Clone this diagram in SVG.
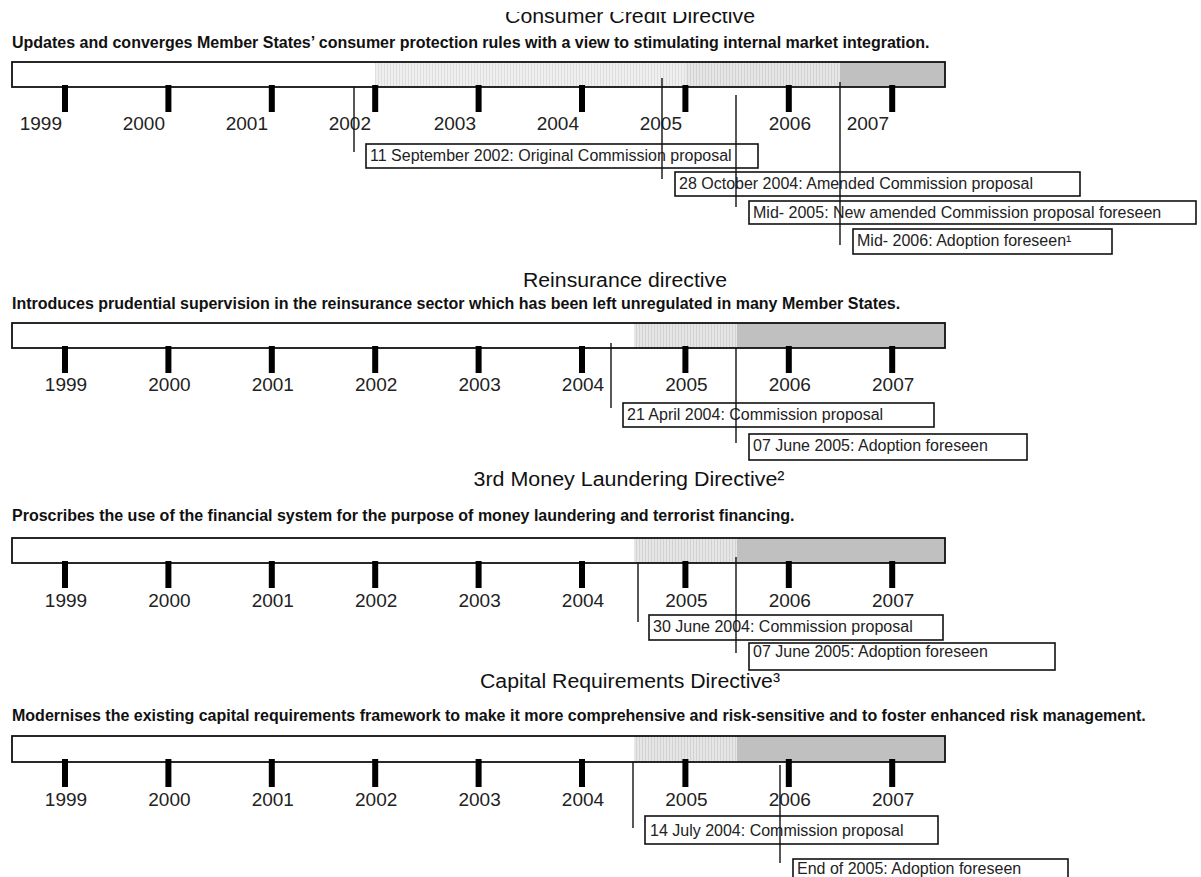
<svg xmlns="http://www.w3.org/2000/svg" width="1201" height="877" viewBox="0 0 1201 877">
<style>
text{font-family:"Liberation Sans",Arial,sans-serif;fill:#111}
.ttl{font-size:20px}
.sub{font-size:16px;font-weight:bold}
.yr{font-size:19px;fill:#222}
.bt{font-size:16px;fill:#222}
.bar{fill:none;stroke:#111;stroke-width:1.8}
.tick{fill:#000}
.box{fill:none;stroke:#111;stroke-width:1.6}
.ln{stroke:#111;stroke-width:1.4;fill:none}
.solid{fill:#c0c0c0}
.lt{fill:url(#pLight)}
.md{fill:url(#pMed)}
</style>
<defs>
<pattern id="pLight" width="3" height="3" patternUnits="userSpaceOnUse">
<rect width="3" height="3" fill="#efefef"/>
<rect width="1" height="3" fill="#dedede"/>
</pattern>
<pattern id="pMed" width="3" height="3" patternUnits="userSpaceOnUse">
<rect width="3" height="3" fill="#e6e6e6"/>
<rect width="1" height="3" fill="#d2d2d2"/>
</pattern>
<clipPath id="topclip"><rect x="0" y="12" width="1201" height="40"/></clipPath>
</defs>
<rect width="1201" height="877" fill="#fff"/>

<!-- Section 1 -->
<g id="sec1">
<text class="ttl" x="630" y="23" text-anchor="middle" textLength="250" lengthAdjust="spacingAndGlyphs" clip-path="url(#topclip)">Consumer Credit Directive</text>
<text class="sub" x="12" y="48">Updates and converges Member States’ consumer protection rules with a view to stimulating internal market integration.</text>
<g id="bar1">
<rect class="lt" x="375" y="62" width="311" height="25"/>
<rect class="md" x="686" y="62" width="154" height="25"/>
<rect class="solid" x="840" y="62" width="105" height="25"/>
<rect class="bar" x="12" y="62" width="933" height="25"/>
<g class="tick">
<rect x="62" y="85" width="6" height="27"/><rect x="165.4" y="85" width="6" height="27"/><rect x="268.8" y="85" width="6" height="27"/><rect x="372.2" y="85" width="6" height="27"/><rect x="475.6" y="85" width="6" height="27"/><rect x="579" y="85" width="6" height="27"/><rect x="682.4" y="85" width="6" height="27"/><rect x="785.8" y="85" width="6" height="27"/><rect x="889.2" y="85" width="6" height="27"/>
</g>
<g class="yr" text-anchor="end">
<text class="yr" x="62" y="130">1999</text><text class="yr" x="165" y="130">2000</text><text class="yr" x="268" y="130">2001</text><text class="yr" x="371" y="130">2002</text><text class="yr" x="476" y="130">2003</text><text class="yr" x="579" y="130">2004</text><text class="yr" x="682" y="130">2005</text><text class="yr" x="811" y="130">2006</text><text class="yr" x="889" y="130">2007</text>
</g>
</g>
</g>
<g id="n1-1"><rect class="box" x="366" y="144" width="392" height="24"/><text class="bt" x="370" y="161">11 September 2002: Original Commission proposal</text></g>
<g id="n1-2"><rect class="box" x="675" y="172" width="405" height="24"/><text class="bt" x="679" y="189">28 October 2004: Amended Commission proposal</text></g>
<g id="n1-3"><rect class="box" x="749" y="201" width="447" height="23"/><text class="bt" x="753" y="218">Mid- 2005: New amended Commission proposal foreseen</text></g>
<g id="n1-4"><rect class="box" x="853" y="229" width="259" height="25"/><text class="bt" x="857" y="246">Mid- 2006: Adoption foreseen¹</text></g>

<!-- Section 2 -->
<g id="sec2">
<text class="ttl" x="625" y="287" text-anchor="middle" textLength="204" lengthAdjust="spacingAndGlyphs">Reinsurance directive</text>
<text class="sub" x="12" y="309">Introduces prudential supervision in the reinsurance sector which has been left unregulated in many Member States.</text>
<g id="bar2">
<rect class="md" x="634" y="323" width="103" height="25"/>
<rect class="solid" x="737" y="323" width="208" height="25"/>
<rect class="bar" x="12" y="323" width="933" height="25"/>
<g class="tick">
<rect x="62" y="346" width="6" height="27"/><rect x="165.4" y="346" width="6" height="27"/><rect x="268.8" y="346" width="6" height="27"/><rect x="372.2" y="346" width="6" height="27"/><rect x="475.6" y="346" width="6" height="27"/><rect x="579" y="346" width="6" height="27"/><rect x="682.4" y="346" width="6" height="27"/><rect x="785.8" y="346" width="6" height="27"/><rect x="889.2" y="346" width="6" height="27"/>
</g>
<g text-anchor="middle">
<text class="yr" x="66" y="391">1999</text><text class="yr" x="169.4" y="391">2000</text><text class="yr" x="272.8" y="391">2001</text><text class="yr" x="376.2" y="391">2002</text><text class="yr" x="479.6" y="391">2003</text><text class="yr" x="583" y="391">2004</text><text class="yr" x="686.4" y="391">2005</text><text class="yr" x="789.8" y="391">2006</text><text class="yr" x="893.2" y="391">2007</text>
</g>
</g>
</g>
<g id="n2-1"><rect class="box" x="623" y="403" width="311" height="24"/><text class="bt" x="627" y="420">21 April 2004: Commission proposal</text></g>
<g id="n2-2"><rect class="box" x="749" y="434" width="278" height="26"/><text class="bt" x="753" y="451">07 June 2005: Adoption foreseen</text></g>

<!-- Section 3 -->
<g id="sec3">
<text class="ttl" x="629" y="486" text-anchor="middle" textLength="311" lengthAdjust="spacingAndGlyphs">3rd Money Laundering Directive²</text>
<text class="sub" x="12" y="521">Proscribes the use of the financial system for the purpose of money laundering and terrorist financing.</text>
<g id="bar3">
<rect class="md" x="634" y="538" width="103" height="25"/>
<rect class="solid" x="737" y="538" width="208" height="25"/>
<rect class="bar" x="12" y="538" width="933" height="25"/>
<g class="tick">
<rect x="62" y="561" width="6" height="27"/><rect x="165.4" y="561" width="6" height="27"/><rect x="268.8" y="561" width="6" height="27"/><rect x="372.2" y="561" width="6" height="27"/><rect x="475.6" y="561" width="6" height="27"/><rect x="579" y="561" width="6" height="27"/><rect x="682.4" y="561" width="6" height="27"/><rect x="785.8" y="561" width="6" height="27"/><rect x="889.2" y="561" width="6" height="27"/>
</g>
<g text-anchor="middle">
<text class="yr" x="66" y="607">1999</text><text class="yr" x="169.4" y="607">2000</text><text class="yr" x="272.8" y="607">2001</text><text class="yr" x="376.2" y="607">2002</text><text class="yr" x="479.6" y="607">2003</text><text class="yr" x="583" y="607">2004</text><text class="yr" x="686.4" y="607">2005</text><text class="yr" x="789.8" y="607">2006</text><text class="yr" x="893.2" y="607">2007</text>
</g>
</g>
</g>
<g id="n3-1"><rect class="box" x="649" y="615" width="294" height="25"/><text class="bt" x="653" y="632">30 June 2004: Commission proposal</text></g>
<g id="n3-2"><rect class="box" x="749" y="643" width="306" height="27"/><text class="bt" x="753" y="657">07 June 2005: Adoption foreseen</text></g>

<!-- Section 4 -->
<g id="sec4">
<text class="ttl" x="630" y="688" text-anchor="middle" textLength="300" lengthAdjust="spacingAndGlyphs">Capital Requirements Directive³</text>
<text class="sub" x="12" y="721">Modernises the existing capital requirements framework to make it more comprehensive and risk-sensitive and to foster enhanced risk management.</text>
<g id="bar4">
<rect class="md" x="634" y="736" width="103" height="26"/>
<rect class="solid" x="737" y="736" width="208" height="26"/>
<rect class="bar" x="12" y="736" width="933" height="26"/>
<g class="tick">
<rect x="62" y="759" width="6" height="28"/><rect x="165.4" y="759" width="6" height="28"/><rect x="268.8" y="759" width="6" height="28"/><rect x="372.2" y="759" width="6" height="28"/><rect x="475.6" y="759" width="6" height="28"/><rect x="579" y="759" width="6" height="28"/><rect x="682.4" y="759" width="6" height="28"/><rect x="785.8" y="759" width="6" height="28"/><rect x="889.2" y="759" width="6" height="28"/>
</g>
<g text-anchor="middle">
<text class="yr" x="66" y="806">1999</text><text class="yr" x="169.4" y="806">2000</text><text class="yr" x="272.8" y="806">2001</text><text class="yr" x="376.2" y="806">2002</text><text class="yr" x="479.6" y="806">2003</text><text class="yr" x="583" y="806">2004</text><text class="yr" x="686.4" y="806">2005</text><text class="yr" x="789.8" y="806">2006</text><text class="yr" x="893.2" y="806">2007</text>
</g>
</g>
</g>
<g id="n4-1"><rect class="box" x="645" y="816" width="293" height="28"/><text class="bt" x="650" y="836">14 July 2004: Commission proposal</text></g>
<g id="n4-2"><rect class="box" x="793" y="859" width="275" height="30"/><text class="bt" x="797" y="874">End of 2005: Adoption foreseen</text></g>

<g id="connectors" class="ln">
<line x1="354" y1="87" x2="354" y2="152"/>
<line x1="662" y1="78" x2="662" y2="179"/>
<line x1="736" y1="95" x2="736" y2="207"/>
<line x1="840" y1="82" x2="840" y2="245"/>
<line x1="611" y1="343" x2="611" y2="408"/>
<line x1="736" y1="348" x2="736" y2="443"/>
<line x1="638" y1="563" x2="638" y2="622"/>
<line x1="736" y1="557" x2="736" y2="653"/>
<line x1="633" y1="762" x2="633" y2="828"/>
<line x1="780" y1="765" x2="780" y2="863"/>
</g>
</svg>
